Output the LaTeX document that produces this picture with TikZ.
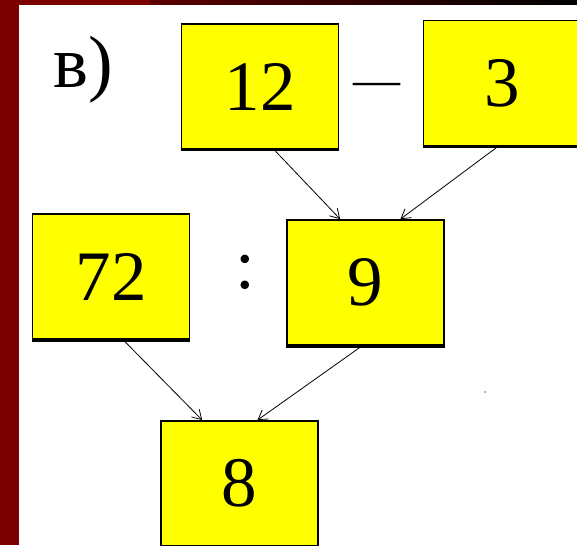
\documentclass[tikz,border=0pt]{standalone}
\usepackage{fontspec}
\setmainfont{Liberation Serif}
\newfontfamily\numfont{Liberation Serif}
\usetikzlibrary{arrows.meta,calc}
\definecolor{darkred}{HTML}{7B0000}
\definecolor{boxyellow}{HTML}{FFFF00}
\tikzset{
  numbox/.style={draw=black, line width=1.8pt, fill=boxyellow,
    minimum width=157pt, minimum height=125pt, inner sep=0pt,
    font=\numfont\fontsize{71}{71}\selectfont},
  link/.style={line width=0.8pt, -{Straight Barb[length=9pt,width=11pt]}},
  thickedge/.style={line width=3.2pt, line cap=butt},
  optext/.style={inner sep=0pt, anchor=base}
}
\begin{document}
\begin{tikzpicture}[x=1pt,y=-1pt]
\useasboundingbox (0,0) rectangle (577,545);
\clip (0,0) rectangle (577,545);
\fill[white] (0,0) rectangle (577,545);
% frame of the slide
\shade[left color=darkred, right color=black] (0,0) rectangle (577,5);
\fill[darkred] (0,0) rectangle (19,545);
\fill[darkred] (0,0) rectangle (150,5);

% label
\node[inner sep=0pt, anchor=base west, font=\numfont\fontsize{74}{74}\selectfont] (lbl) at (53,88) {в)};

% boxes
\node[numbox] (n12) at (260,86.5) {12};
\node[numbox] (n3)  at (502,83) {3};
\node[numbox] (n72) at (111,276.5) {72};
\node[numbox] (n9)  at (365.5,282.5) {9};
\node[numbox] (n8)  at (239.5,483.5) {8};

\foreach \b in {n12,n3,n72,n9,n8}
  \draw[thickedge] (\b.south west) -- (\b.south east);

% operators
\node[optext, font=\numfont\fontsize{47}{47}\selectfont] (minus) at (376.5,96) {—};
\node[optext, font=\numfont\fontsize{71}{71}\selectfont] (colon) at (245,288) {:};

% connectors
\draw[link] ($(n12.south west)!0.59!(n12.south east)$) -- ($(n9.north west)!0.34!(n9.north east)$);
\draw[link] ($(n3.south west)!0.475!(n3.south east)$) -- ($(n9.north west)!0.72!(n9.north east)$);
\draw[link] ($(n72.south west)!0.577!(n72.south east)$) -- ($(n8.north west)!0.265!(n8.north east)$);
\draw[link] ($(n9.south west)!0.478!(n9.south east)$) -- ($(n8.north west)!0.613!(n8.north east)$);

% stray speck
\fill[gray] (485,392) circle (1);
\end{tikzpicture}
\end{document}
